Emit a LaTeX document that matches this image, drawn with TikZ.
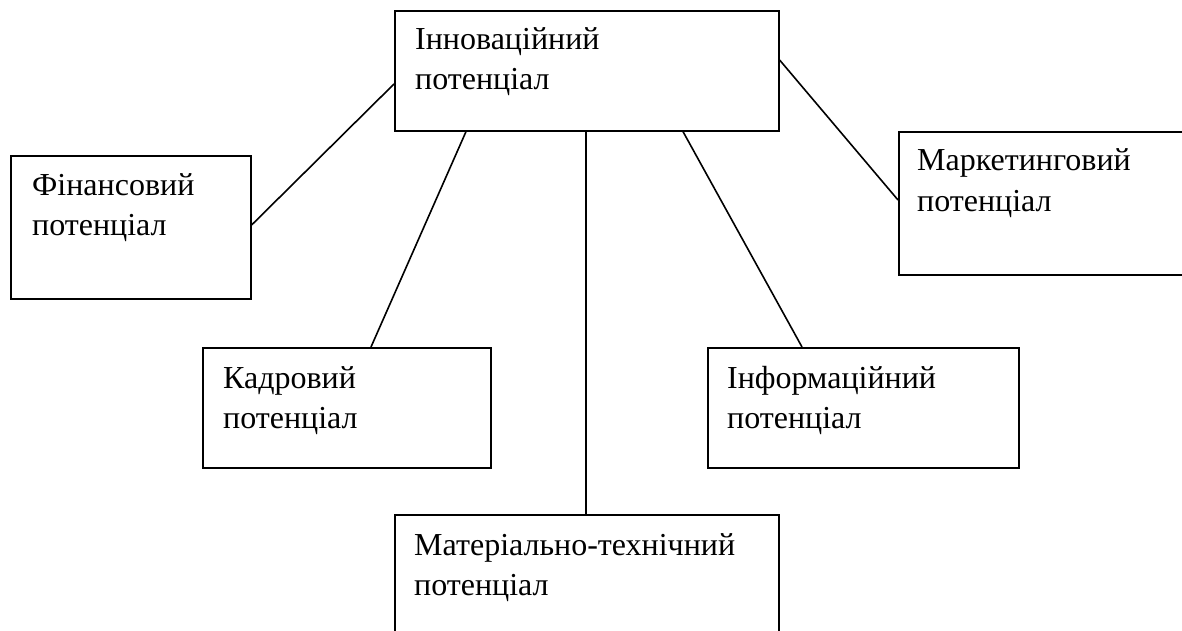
\documentclass[tikz,border=0pt]{standalone}
\usepackage{fontspec}
\setmainfont{Liberation Serif}
\usetikzlibrary{calc}
\begin{document}
\begin{tikzpicture}[x=1pt,y=-1pt,
  box/.style={draw=black, line width=1.6pt, rectangle, inner sep=0pt, anchor=north west},
  lbl/.style={anchor=base west, align=left, inner sep=0pt, font=\fontsize{32}{40}\selectfont},
  link/.style={draw=black, line width=1.6pt}]
\useasboundingbox (0,0) rectangle (1182,631);
% boxes
\node[box, minimum width=384pt, minimum height=120pt] (inn) at (394,10) {};
\node[box, minimum width=240pt, minimum height=143pt] (fin) at (10,155) {};
\node[box, minimum width=300pt, minimum height=143pt] (mark) at (898,131) {};
\node[box, minimum width=288pt, minimum height=120pt] (kad) at (202,347) {};
\node[box, minimum width=311pt, minimum height=120pt] (inf) at (707,347) {};
\node[box, minimum width=384pt, minimum height=130pt] (mat) at (394,514) {};
% texts (base = baseline of the last line)
\node[lbl] (innt) at ($(inn.north west)+(21,80)$) {Інноваційний\\потенціал};
\node[lbl] (fint) at ($(fin.north west)+(22,80)$) {Фінансовий\\потенціал};
\node[lbl] (markt) at ($(mark.north west)+(19,80)$) {Маркетинговий\\потенціал};
\node[lbl] (kadt) at ($(kad.north west)+(21,81)$) {Кадровий\\потенціал};
\node[lbl] (inft) at ($(inf.north west)+(20,81)$) {Інформаційний\\потенціал};
\node[lbl] (matt) at ($(mat.north west)+(20,81)$) {Матеріально-технічний\\потенціал};
% connectors
\draw[link] ($(inn.north west)+(0,74)$) -- ($(fin.north east)+(0,70)$);
\draw[link] ($(inn.south west)+(72,0)$) -- ($(kad.north west)+(169,0)$);
\draw[link] ($(inn.south west)+(192,0)$) -- ($(mat.north west)+(192,0)$);
\draw[link] ($(inn.south west)+(289,0)$) -- ($(inf.north west)+(95,0)$);
\draw[link] ($(inn.north east)+(0,50)$) -- ($(mark.north west)+(0,69)$);
\end{tikzpicture}
\end{document}
